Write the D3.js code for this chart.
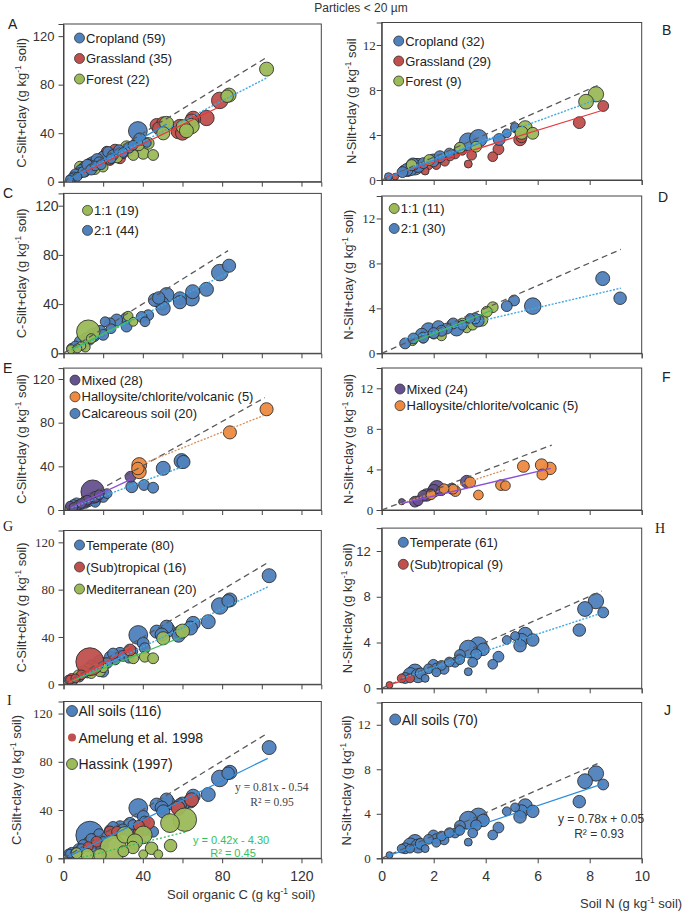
<!DOCTYPE html>
<html><head><meta charset="utf-8">
<script src="https://cdn.jsdelivr.net/npm/d3@7"></script>
<style>body{margin:0;background:#fff} svg{display:block}</style>
</head><body>
<svg id="chart" width="685" height="913"></svg>
<script>
// ---------- DATA: [x, y, weight] ----------
// Panel A: C by land use
const cropC = [[37.5,41.8,45],[38.5,35,20],[22.5,24.5,15],[25,22,15],[28,26,15],[30,24,12],[33,28,15],[20,20,20],[17,18,20],[15,15,25],[13,13,20],[11,11,25],[9,9,20],[8,7,15],[6,6,15],[5,4,12],[4,3,10],[3,2,8],[7,4,10],[10,8,15],[12,14,15],[14,10,15],[16,13,12],[18,16,15],[19,14,12],[24,19,12],[35,30,12],[42,32,10]];
const grassC = [[78.8,67,35],[72.1,52.5,30],[65.4,52,28],[64.6,50,25],[58.7,45.3,28],[57.8,41.2,25],[60,40,25],[47,46.7,22],[50.3,48.1,22],[48,44,20],[26,26,18],[28.5,19.3,15],[23.4,17.9,15],[31.8,27.5,15],[21.8,24.7,15],[36,30.2,15],[13.4,15.1,15],[10.8,8.2,12],[17,17,15],[20,21,12],[30,23,12],[33,25,12],[15,12,12],[8,6,10],[25,21,12]];
const forestC = [[102.4,92.8,25],[83.5,71.4,25],[82.5,70.5,20],[64.6,45.9,30],[60.4,45.3,25],[62,42,25],[52,48.1,25],[50.3,39.9,22],[45.2,22,15],[40.2,23.4,18],[42.7,31.6,18],[35.2,22,15],[31.8,28.8,18],[38,30,15],[18.4,15.2,20],[13.3,13.8,18],[8.3,12.4,15],[23.4,19.3,18],[27,20,15],[16,10,12],[11,8,12],[20,12,12]];
const lineA_crop = [[3,2],[52,47.5]];
const lineA_grass = [[10,7.5],[79,62]];
const lineA_forest = [[15,12],[103,86]];
const oneToOneA = [[0,0],[103,103]];

// Panel B: N by land use
const cropN = [[3.33,3.4,40],[3.72,3.7,40],[4.52,3.6,18],[4.81,4.15,10],[5.13,4.7,10],[1.28,1.18,35],[1.1,1.0,25],[1.4,1.3,25],[0.96,0.9,20],[1.2,1.4,20],[1.98,1.78,18],[2.24,2.07,18],[0.26,0.3,8],[0.8,0.7,15],[1.6,1.5,15],[2.0,1.6,12],[2.6,2.4,12],[3.0,2.8,15]];
const grassN = [[8.52,6.58,15],[7.6,5.1,18],[5.32,3.6,20],[5.38,3.8,15],[4.49,2.73,15],[4.27,2.07,12],[5.13,4.6,10],[3.46,2.2,12],[3.33,1.42,8],[2.82,2.31,12],[2.43,1.63,10],[2.1,1.33,10],[1.8,1.3,10],[1.67,0.8,8],[2.63,2.1,10],[0.83,0.89,10],[0.52,0.3,6],[1.0,0.7,10],[1.5,1.1,10],[2.2,1.9,10],[3.1,2.6,10]];
const forestN = [[8.24,7.62,30],[7.86,6.96,28],[5.52,4.65,25],[5.38,4.2,22],[5.81,4.15,18],[3.63,2.96,15],[3.01,2.87,15],[1.83,1.78,15],[1.15,1.33,15]];
const lineB_crop = [[0.3,0.3],[5.1,4.4]];
const lineB_grass = [[0.2,0.3],[8.5,6.2]];
const lineB_forest = [[1.2,1.2],[8.2,7.1]];
const oneToOneB = [[0,0],[8.3,8.4]];

// Panel C: C by clay mineralogy
const twoOneC = [[83.5,71.2,22],[78.8,65.6,35],[72.1,52,25],[65.1,50.1,25],[64.6,44.7,30],[58.7,44.7,22],[58.7,41.5,22],[52,47.4,28],[49.5,40.7,25],[50.3,36.6,25],[46.1,43.4,22],[48,45,20],[42.7,31,15],[39.4,29.6,15],[41.1,25.6,12],[31.8,28.5,18],[31.8,21.7,15],[26.8,27.1,18],[23.4,24.4,15],[21,25.7,12],[18.4,17.6,20],[15,14.9,25],[11.8,12.2,20],[8.5,9.5,18],[4.1,4.1,12],[13,11,15],[20,15,15],[24,20,12],[10,6,12],[6,6,12]];
const oneOneC = [[32.6,30.2,12],[35.2,25.6,10],[12.5,17.6,70],[3.8,3.3,10],[11,5,12],[9,6,10],[7,4,10],[14,12,12]];
const lineC_21 = [[5,3],[83,65.4]];
const lineC_11 = [[4,3],[35,28]];
const oneToOneC = [[0,0],[83,83.5]];

// Panel D: N by clay mineralogy
const twoOneN = [[8.5,6.65,25],[9.17,4.9,20],[5.81,4.2,35],[5.09,4.7,15],[4.81,4.2,15],[3.59,3.1,15],[3.4,3.1,12],[2.88,2.2,28],[2.75,2.66,15],[2.18,2.35,20],[2.5,2.2,15],[1.8,2.06,28],[1.54,1.67,20],[1.6,1.4,15],[0.9,0.88,15],[1.22,1.32,15],[2.3,2.0,15],[3.7,2.9,20],[3.1,2.5,12],[2.0,1.8,15]];
const oneOneN = [[4.27,4.1,15],[4.04,3.7,15],[3.85,2.94,18],[3.27,2.26,12],[2.3,1.55,12],[3.1,2.7,12],[2.7,2.6,12],[1.19,1.08,10],[3.5,2.5,12],[2.0,1.7,12],[1.6,1.3,10]];
const lineD_21 = [[0.9,1.3],[9.2,5.8]];
const lineD_11 = [[1.2,1.0],[4.3,3.9]];
const oneToOneD = [[0,0],[9.2,9.25]];

// Panel E: C by other mineralogy
const mixedC = [[14.7,16.8,70],[33.8,30.5,15],[10.8,7.6,15],[7.5,4.6,12],[3.3,3.9,10],[5,2.5,10],[12,9,12],[9,6,12],[16,12,15],[18,14,12]];
const halloC = [[102.4,92.3,22],[83.9,71.1,22],[38.2,41.2,28],[38.2,35.1,25],[37.5,38,20]];
const calcC = [[59.5,44.9,28],[60.5,44,22],[50.3,38.2,25],[40.6,22.9,15],[45.2,20.4,15],[34.4,21.3,18],[18.4,13.7,18],[15.9,9.2,18],[12.5,8.4,18],[6.6,6.1,15],[4.1,3.1,12],[20,12,15],[9,5,12],[3,2,10],[14,11,15],[22,15,12],[11,6,12],[7,3,10],[16,7,12],[5,5,12]];
const lineE_mixed = [[4,2.5],[34,28]];
const lineE_hallo = [[38,41],[101.5,87]];
const lineE_calc = [[4,2],[60,39.6]];
const oneToOneE = [[0,0],[101.5,102.9]];

// Panel F: N by other mineralogy
const mixedN = [[3.27,2.8,20],[2.12,2.15,30],[2.0,1.9,20],[1.73,1.48,20],[1.6,1.4,15],[1.28,0.82,15],[1.4,0.9,12],[0.77,0.82,5],[2.7,2.1,15],[1.9,1.6,12],[2.3,1.9,12]];
const halloN = [[6.47,4.1,20],[6.15,4.43,20],[6.18,3.5,15],[5.45,4.3,18],[4.59,2.46,15],[4.76,2.4,12],[3.72,1.48,12],[3.4,2.73,15],[2.83,1.87,15],[2.75,2.05,12],[2.4,2.1,12],[1.9,1.5,12]];
const lineF_mixed = [[0.8,0.66],[6.5,4.1]];
const lineF_hallo = [[0.7,0.6],[4.8,4.0]];
const oneToOneF = [[0,0],[6.54,6.4]];

// Panel G: C by climate
const tempC = [[103.7,91.8,25],[83.9,71.3,25],[83,70.5,20],[78.8,66.2,35],[73,52.9,25],[65.4,51.5,25],[64,47.5,25],[58.7,43.9,22],[58,41.1,22],[52.8,45.9,25],[52,48.7,22],[47,44.5,22],[49.5,42,22],[37.7,41.7,45],[40.2,34.7,18],[41,30.5,15],[28.5,26.2,18],[23.4,23.3,15],[26,21,15],[20,10.6,15],[15.2,15.8,15],[2.5,4,10],[30,24,15],[33,22,12],[18,20,15],[22,18,15],[12,10,15],[8,6,12],[5,3,10],[35,28,12],[25,26,15],[14,16,15]];
const subtropC = [[13.3,19.1,100],[33.5,29,18],[4.1,5,12],[3.3,3.9,10],[6,5,10],[9,8,12]];
const mediC = [[60,45,25],[50.3,38.9,22],[41,23.3,15],[45.2,22,15],[35.2,22,15],[16.7,13.5,18],[12.5,12.7,18],[10,11,15],[7.6,7.6,15],[18.4,11,15],[14,9,12],[20,14,12]];
const lineG_temp = [[5,3.5],[103.2,82.5]];
const lineG_sub = [[3,2.5],[34,30.4]];
const lineG_medi = [[3,2],[60,40.2]];
const oneToOneG = [[0,0],[103.2,103]];

// Panel H: N by climate
const tempN = [[8.24,7.62,30],[7.82,6.93,28],[8.52,6.63,15],[7.6,5.09,20],[5.81,4.22,20],[5.52,4.72,25],[5.38,4.22,22],[5.32,3.72,20],[5.13,4.57,10],[4.81,4.22,10],[4.49,2.76,15],[4.27,2.1,12],[3.72,3.72,40],[3.9,3.4,20],[3.33,3.43,40],[3.63,2.97,15],[3.01,2.91,15],[3.5,2.27,12],[3.33,1.45,8],[2.82,2.27,12],[2.4,1.65,12],[2.1,1.77,12],[2.1,1.4,10],[1.8,1.7,12],[1.99,2.05,15],[2.3,2.0,12],[1.67,0.87,8],[1.28,1.45,30],[1.1,1.2,25],[1.4,1.1,25],[0.9,0.9,15],[1.5,1.3,15],[2.6,2.3,12],[3.0,2.5,12]];
const subtropN = [[0.3,0.29,6],[0.77,0.87,10],[1.09,0.87,10]];
const lineH_temp = [[0.8,0.9],[8.5,6.6]];
const lineH_sub = [[0.2,0.25],[1.1,0.85]];
const oneToOneH = [[0,0],[8.46,8.5]];

// Panel I: all soils C + literature
const allSoilsC = [...tempC, ...subtropC, ...mediC];
const amelungC = [[64.6,48.6,25],[57.8,41.7,25],[42.7,29.2,20],[37.7,20.8,15],[23.4,22.2,15],[16.7,13.8,15],[12.5,9.7,12],[27,22,15],[38,27,15]];
const hassinkC = [[61.2,32,70],[53.7,29.2,45],[54,10.5,20],[40.2,19.4,40],[36,13.9,30],[31,19.4,35],[25.1,8.3,90],[44.4,8.3,20],[47.8,3.3,10],[40.2,3.3,10],[30.2,5.8,15],[6.6,4.2,15],[18.4,2.8,20],[12,3,20],[35,9,20]];
const lineI_all = [[4,2.7],[103,82.9]];
const lineI_hassink = [[7.5,0],[62,22]];
const oneToOneI = [[0,0],[103.2,104]];

// Panel J: all soils N
const allSoilsN = [...tempN, ...subtropN];
const lineJ_all = [[0.2,0.2],[8.5,6.68]];
const oneToOneJ = [[0,0],[8.3,8.5]];

const cTicksX = [0,20,40,60,80,100,120], cLabelsX = [0,40,80,120];
const cTicksY = [0,40,80,120];
const nTicksX = [0,2,4,6,8,10];
const nTicksY = [0,4,8,12];

// ---------- STYLE ----------
const COL = {blue:"#4f81bd", red:"#c0504d", green:"#9bbb59", orange:"#ed8a3f", purple:"#66518f"};
const SANS = "'Liberation Sans', Arial, sans-serif";
const SERIF = "'Liberation Serif', 'Times New Roman', serif";
const LS = {
  dash:{c:"#595959", d:"6,4", w:1.3},
  lblue:{c:"#3fa9e0", d:"2,1.5", w:1.4},
  blue:{c:"#2e8ddb", d:null, w:1.3},
  red:{c:"#e8383d", d:null, w:1.3},
  green:{c:"#3cc05a", d:null, w:1.3},
  gdot:{c:"#36c060", d:"2,2", w:1.3},
  odot:{c:"#d9905a", d:"2,1.5", w:1.3},
  purple:{c:"#8a4fd8", d:null, w:1.3}
};
const rScale = d3.scaleSqrt().domain([0,100]).range([0,14]);
const svg = d3.select("#chart");

function label(g, x, y, parts, opts) {
  const t = g.append("text").attr("x", x).attr("y", y)
    .attr("font-family", opts.font || SANS).attr("font-size", opts.size || 13)
    .attr("fill", opts.fill || "#222");
  if (opts.anchor) t.attr("text-anchor", opts.anchor);
  if (opts.rotate) t.attr("transform", `rotate(-90,${x},${y})`);
  parts.forEach(p => {
    if (typeof p === "string") t.append("tspan").text(p);
    else t.append("tspan").attr("baseline-shift", "super").attr("font-size", (opts.size||13)*0.65).text(p.sup);
  });
  return t;
}

function panel(cfg) {
  const isC = cfg.kind === "C";
  const x = d3.scaleLinear().domain(isC ? [0,130] : [0,10]).range(isC ? [63.5,321.3] : [381.7,641.7]);
  const y = d3.scaleLinear().domain(isC ? [0,130] : [0,14]).range([cfg.y0, cfg.top]);
  const g = svg.append("g");
  const [xl, xr] = x.range();
  g.append("rect").attr("x", xl).attr("y", cfg.top).attr("width", xr - xl).attr("height", cfg.y0 - cfg.top)
    .attr("fill", "none").attr("stroke", "#444").attr("stroke-width", 1);
  const xAxis = d3.axisBottom(x).tickValues(isC ? cTicksX : nTicksX).tickSize(5)
    .tickFormat(d => cfg.xlabels ? ((isC ? cLabelsX : nTicksX).includes(d) ? d : "") : "");
  const xa = g.append("g").attr("transform", `translate(0,${cfg.y0})`).call(xAxis);
  xa.select(".domain").attr("stroke", "#444");
  xa.selectAll(".tick line").attr("stroke", "#444");
  xa.selectAll("text").attr("font-family", SANS).attr("font-size", 14).attr("fill", "#333").attr("dy", "1.05em");
  const yAxis = d3.axisLeft(y).tickValues(isC ? cTicksY : nTicksY).tickSize(5).tickPadding(cfg.ygap);
  const ya = g.append("g").attr("transform", `translate(${xl},0)`).call(yAxis);
  ya.select(".domain").attr("stroke", "#444");
  ya.selectAll(".tick line").attr("stroke", "#444");
  ya.selectAll("text").attr("font-family", cfg.yfont).attr("font-size", cfg.ysize).attr("fill", "#333");
  const clipId = "clip" + cfg.id;
  g.append("clipPath").attr("id", clipId).append("rect").attr("x", xl).attr("y", cfg.top).attr("width", xr - xl).attr("height", cfg.y0 - cfg.top);
  const pg = g.append("g").attr("clip-path", `url(#${clipId})`);
  cfg.series.forEach(s => {
    const data = s.data.slice().sort((a, b) => b[2] - a[2]);
    pg.append("g").selectAll("circle").data(data).join("circle")
      .attr("cx", d => x(d[0])).attr("cy", d => y(d[1])).attr("r", d => rScale(d[2]))
      .attr("fill", s.color).attr("fill-opacity", 0.95)
      .attr("stroke", "#2a2a2a").attr("stroke-opacity", 0.85).attr("stroke-width", 1);
  });
  const line = d3.line().x(d => x(d[0])).y(d => y(d[1]));
  cfg.lines.forEach(l => {
    const st = LS[l.style];
    const p = pg.append("path").datum(l.data).attr("d", line).attr("fill", "none")
      .attr("stroke", st.c).attr("stroke-width", st.w);
    if (st.d) p.attr("stroke-dasharray", st.d);
  });
  const lg = cfg.legend;
  lg.items.forEach((it, i) => {
    const cy = cfg.top + lg.dy + i * lg.sp, cx = xl + lg.dx;
    const c = g.append("circle").attr("cx", cx).attr("cy", cy).attr("r", it.r || lg.r || 5).attr("fill", it.color);
    if (!it.nostroke) c.attr("stroke", "#333").attr("stroke-width", 0.8);
    g.append("text").attr("x", cx + 6.5).attr("y", cy).attr("dy", "0.36em")
      .attr("font-family", SANS).attr("font-size", lg.size || 13).attr("fill", "#222").text(it.text);
  });
  const ylab = isC ? ["C-Silt+clay (g kg", {sup:"-1"}, " soil)"] : ["N-Silt+clay (g kg", {sup:"-1"}, cfg.noParen ? " soil" : " soil)"];
  label(g, cfg.ylx, (cfg.top + cfg.y0) / 2, ylab, {anchor:"middle", rotate:true, size:13, fill:"#333"});
  g.append("text").attr("x", cfg.lx).attr("y", cfg.ly).attr("font-family", cfg.lfont || SANS)
    .attr("font-size", 14).attr("fill", "#222").text(cfg.id);
  return {g, x, y};
}

// ---------- PANELS ----------
panel({id:"A", kind:"C", top:24, y0:181.7, ygap:4, yfont:SANS, ysize:13, ylx:26, lx:8, ly:29,
  series:[{data:grassC,color:COL.red},{data:forestC,color:COL.green},{data:cropC,color:COL.blue}],
  lines:[{data:oneToOneA,style:"dash"},{data:lineA_forest,style:"lblue"},{data:lineA_grass,style:"red"},{data:lineA_crop,style:"blue"}],
  legend:{dx:16,dy:14,sp:20.5,items:[{color:COL.blue,text:"Cropland (59)"},{color:COL.red,text:"Grassland (35)"},{color:COL.green,text:"Forest (22)"}]}});

panel({id:"B", kind:"N", top:22.5, y0:180, ygap:1, yfont:SERIF, ysize:13, ylx:356, lx:662, ly:35, noParen:true,
  series:[{data:grassN,color:COL.red},{data:cropN,color:COL.blue},{data:forestN,color:COL.green}],
  lines:[{data:oneToOneB,style:"dash"},{data:lineB_forest,style:"lblue"},{data:lineB_grass,style:"red"},{data:lineB_crop,style:"blue"}],
  legend:{dx:17,dy:18.5,sp:20,items:[{color:COL.blue,text:"Cropland (32)"},{color:COL.red,text:"Grassland (29)"},{color:COL.green,text:"Forest (9)"}]}});

panel({id:"C", kind:"C", top:193.4, y0:353.3, ygap:0, yfont:SANS, ysize:14, ylx:26, lx:3, ly:198,
  series:[{data:twoOneC,color:COL.blue},{data:oneOneC,color:COL.green}],
  lines:[{data:oneToOneC,style:"dash"},{data:lineC_21,style:"lblue"},{data:lineC_11,style:"green"}],
  legend:{dx:24,dy:17,sp:20,items:[{color:COL.green,text:"1:1 (19)"},{color:COL.blue,text:"2:1 (44)"}]}});

panel({id:"D", kind:"N", top:196, y0:353.3, ygap:1.5, yfont:SERIF, ysize:13, ylx:353, lx:658, ly:202,
  series:[{data:oneOneN,color:COL.green},{data:twoOneN,color:COL.blue}],
  lines:[{data:oneToOneD,style:"dash"},{data:lineD_21,style:"lblue"},{data:lineD_11,style:"green"}],
  legend:{dx:12.5,dy:12.5,sp:20,items:[{color:COL.green,text:"1:1 (11)"},{color:COL.blue,text:"2:1 (30)"}]}});

panel({id:"E", kind:"C", top:368.1, y0:510, ygap:4, yfont:SANS, ysize:13, ylx:26, lx:3, ly:373,
  series:[{data:calcC,color:COL.blue},{data:mixedC,color:COL.purple},{data:halloC,color:COL.orange}],
  lines:[{data:oneToOneE,style:"dash"},{data:lineE_hallo,style:"odot"},{data:lineE_calc,style:"lblue"},{data:lineE_mixed,style:"purple"}],
  legend:{dx:11.5,dy:12,sp:16.7,items:[{color:COL.purple,text:"Mixed (28)"},{color:COL.orange,text:"Halloysite/chlorite/volcanic (5)"},{color:COL.blue,text:"Calcareous soil (20)"}]}});

panel({id:"F", kind:"N", top:368, y0:510, ygap:3.5, yfont:SERIF, ysize:13, ylx:353, lx:662, ly:382,
  series:[{data:mixedN,color:COL.purple},{data:halloN,color:COL.orange}],
  lines:[{data:oneToOneF,style:"dash"},{data:lineF_hallo,style:"odot"},{data:lineF_mixed,style:"purple"}],
  legend:{dx:18.3,dy:21,sp:16.7,items:[{color:COL.purple,text:"Mixed (24)"},{color:COL.orange,text:"Halloysite/chlorite/volcanic (5)"}]}});

panel({id:"G", kind:"C", top:530.5, y0:684.3, ygap:4, yfont:SERIF, ysize:13, ylx:26, lx:3, ly:531, lfont:SERIF,
  series:[{data:tempC,color:COL.blue},{data:mediC,color:COL.green},{data:subtropC,color:COL.red}],
  lines:[{data:oneToOneG,style:"dash"},{data:lineG_temp,style:"lblue"},{data:lineG_medi,style:"green"},{data:lineG_sub,style:"red"}],
  legend:{dx:16,dy:14.5,sp:22,items:[{color:COL.blue,text:"Temperate (80)"},{color:COL.red,text:"(Sub)tropical (16)"},{color:COL.green,text:"Mediterranean (20)"}]}});

panel({id:"H", kind:"N", top:528.1, y0:688.3, ygap:6, yfont:SANS, ysize:13, ylx:352, lx:655, ly:533, lfont:SERIF,
  series:[{data:tempN,color:COL.blue},{data:subtropN,color:COL.red}],
  lines:[{data:oneToOneH,style:"dash"},{data:lineH_temp,style:"lblue"},{data:lineH_sub,style:"red"}],
  legend:{dx:21.6,dy:14.2,sp:22,items:[{color:COL.blue,text:"Temperate (61)"},{color:COL.red,text:"(Sub)tropical (9)"}]}});

panel({id:"I", kind:"C", top:701.5, y0:858.3, ygap:6, yfont:SERIF, ysize:13, ylx:21, lx:7, ly:705, lfont:SERIF, xlabels:true,
  series:[{data:allSoilsC,color:COL.blue},{data:amelungC,color:COL.red},{data:hassinkC,color:COL.green}],
  lines:[{data:oneToOneI,style:"dash"},{data:lineI_all,style:"blue"},{data:lineI_hassink,style:"gdot"}],
  legend:{dx:8.5,dy:9.5,sp:26.5,size:14,items:[{color:COL.blue,text:"All soils (116)",r:5.5},{color:COL.red,text:"Amelung et al. 1998",r:4,nostroke:true},{color:COL.green,text:"Hassink (1997)",r:5.5}]}});

panel({id:"J", kind:"N", top:702.5, y0:858.3, ygap:6, yfont:SERIF, ysize:13, ylx:351, lx:664, ly:715, xlabels:true,
  series:[{data:allSoilsN,color:COL.blue}],
  lines:[{data:oneToOneJ,style:"dash"},{data:lineJ_all,style:"blue"}],
  legend:{dx:13.5,dy:17,sp:20,size:14,items:[{color:COL.blue,text:"All soils (70)",r:5.5}]}});

// equations
const eq = svg.append("g");
eq.append("text").attr("x", 235).attr("y", 791).attr("font-family", SERIF).attr("font-size", 11.5).attr("fill", "#444").text("y = 0.81x - 0.54");
eq.append("text").attr("x", 272).attr("y", 806).attr("text-anchor", "middle").attr("font-family", SERIF).attr("font-size", 11.5).attr("fill", "#444").text("R² = 0.95");
eq.append("text").attr("x", 193).attr("y", 844).attr("font-family", SANS).attr("font-size", 11).attr("fill", "#33c060").text("y = 0.42x - 4.30");
eq.append("text").attr("x", 233).attr("y", 857).attr("text-anchor", "middle").attr("font-family", SANS).attr("font-size", 11).attr("fill", "#33c060").text("R² = 0.45");
eq.append("text").attr("x", 558).attr("y", 823).attr("font-family", SANS).attr("font-size", 12).attr("fill", "#333").text("y = 0.78x + 0.05");
eq.append("text").attr("x", 599).attr("y", 838).attr("text-anchor", "middle").attr("font-family", SANS).attr("font-size", 12).attr("fill", "#333").text("R² = 0.93");

// titles and x labels
svg.append("text").attr("x", 361).attr("y", 12).attr("text-anchor", "middle").attr("font-family", SANS).attr("font-size", 12).attr("fill", "#333").text("Particles < 20 µm");
label(svg, 167, 899, ["Soil organic C (g kg", {sup:"-1"}, " soil)"], {size:13, fill:"#333"});
label(svg, 580, 908, ["Soil N (g kg", {sup:"-1"}, " soil)"], {size:13, fill:"#333"});
</script></body></html>
